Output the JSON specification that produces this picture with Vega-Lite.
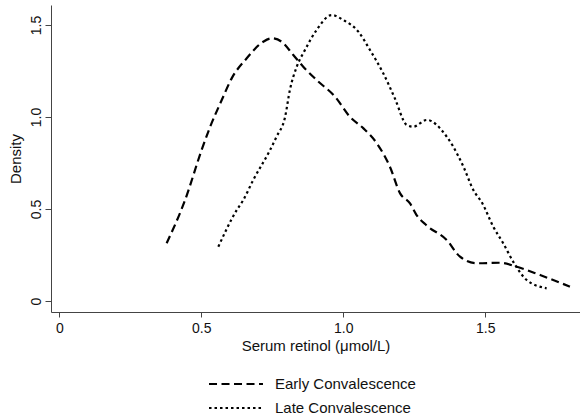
{
  "$schema": "https://vega.github.io/schema/vega-lite/v6.json",
  "width": 529,
  "height": 307,
  "autosize": {"type": "none"},
  "padding": {"left": 51, "top": 5, "right": 0, "bottom": 108},
  "background": "white",
  "config": {
    "view": {"stroke": null},
    "font": "Liberation Sans",
    "axis": {"grid": false, "domainColor": "#444", "tickColor": "#444", "labelColor": "#111", "titleColor": "#111", "labelFont": "Liberation Sans", "titleFont": "Liberation Sans", "titleFontWeight": "normal", "labelFontSize": 14, "titleFontSize": 15}
  },
  "data": {"values": [
    {"series": "Early Convalescence", "x": 0.378, "y": 0.314},
    {"series": "Early Convalescence", "x": 0.443, "y": 0.549},
    {"series": "Early Convalescence", "x": 0.501, "y": 0.82},
    {"series": "Early Convalescence", "x": 0.531, "y": 0.946},
    {"series": "Early Convalescence", "x": 0.572, "y": 1.092},
    {"series": "Early Convalescence", "x": 0.607, "y": 1.21},
    {"series": "Early Convalescence", "x": 0.66, "y": 1.319},
    {"series": "Early Convalescence", "x": 0.718, "y": 1.409},
    {"series": "Early Convalescence", "x": 0.748, "y": 1.428},
    {"series": "Early Convalescence", "x": 0.783, "y": 1.409},
    {"series": "Early Convalescence", "x": 0.824, "y": 1.337},
    {"series": "Early Convalescence", "x": 0.859, "y": 1.273},
    {"series": "Early Convalescence", "x": 0.906, "y": 1.201},
    {"series": "Early Convalescence", "x": 0.971, "y": 1.11},
    {"series": "Early Convalescence", "x": 1.024, "y": 1.0},
    {"series": "Early Convalescence", "x": 1.071, "y": 0.938},
    {"series": "Early Convalescence", "x": 1.118, "y": 0.857},
    {"series": "Early Convalescence", "x": 1.164, "y": 0.73},
    {"series": "Early Convalescence", "x": 1.2, "y": 0.585},
    {"series": "Early Convalescence", "x": 1.235, "y": 0.53},
    {"series": "Early Convalescence", "x": 1.258, "y": 0.467},
    {"series": "Early Convalescence", "x": 1.294, "y": 0.41},
    {"series": "Early Convalescence", "x": 1.364, "y": 0.332},
    {"series": "Early Convalescence", "x": 1.411, "y": 0.241},
    {"series": "Early Convalescence", "x": 1.47, "y": 0.205},
    {"series": "Early Convalescence", "x": 1.552, "y": 0.208},
    {"series": "Early Convalescence", "x": 1.611, "y": 0.186},
    {"series": "Early Convalescence", "x": 1.693, "y": 0.141},
    {"series": "Early Convalescence", "x": 1.798, "y": 0.078},
    {"series": "Late Convalescence", "x": 0.56, "y": 0.295},
    {"series": "Late Convalescence", "x": 0.625, "y": 0.495},
    {"series": "Late Convalescence", "x": 0.648, "y": 0.549},
    {"series": "Late Convalescence", "x": 0.683, "y": 0.658},
    {"series": "Late Convalescence", "x": 0.742, "y": 0.82},
    {"series": "Late Convalescence", "x": 0.765, "y": 0.893},
    {"series": "Late Convalescence", "x": 0.795, "y": 1.0},
    {"series": "Late Convalescence", "x": 0.812, "y": 1.147},
    {"series": "Late Convalescence", "x": 0.836, "y": 1.273},
    {"series": "Late Convalescence", "x": 0.865, "y": 1.364},
    {"series": "Late Convalescence", "x": 0.906, "y": 1.473},
    {"series": "Late Convalescence", "x": 0.959, "y": 1.554},
    {"series": "Late Convalescence", "x": 1.0, "y": 1.527},
    {"series": "Late Convalescence", "x": 1.053, "y": 1.464},
    {"series": "Late Convalescence", "x": 1.094, "y": 1.364},
    {"series": "Late Convalescence", "x": 1.141, "y": 1.237},
    {"series": "Late Convalescence", "x": 1.182, "y": 1.1},
    {"series": "Late Convalescence", "x": 1.223, "y": 0.957},
    {"series": "Late Convalescence", "x": 1.246, "y": 0.947},
    {"series": "Late Convalescence", "x": 1.294, "y": 0.984},
    {"series": "Late Convalescence", "x": 1.329, "y": 0.957},
    {"series": "Late Convalescence", "x": 1.346, "y": 0.929},
    {"series": "Late Convalescence", "x": 1.387, "y": 0.839},
    {"series": "Late Convalescence", "x": 1.423, "y": 0.73},
    {"series": "Late Convalescence", "x": 1.458, "y": 0.603},
    {"series": "Late Convalescence", "x": 1.49, "y": 0.53},
    {"series": "Late Convalescence", "x": 1.528, "y": 0.404},
    {"series": "Late Convalescence", "x": 1.563, "y": 0.314},
    {"series": "Late Convalescence", "x": 1.605, "y": 0.196},
    {"series": "Late Convalescence", "x": 1.646, "y": 0.114},
    {"series": "Late Convalescence", "x": 1.716, "y": 0.069}
  ]},
  "mark": {"type": "line", "color": "#000", "strokeWidth": 2.2, "interpolate": "monotone"},
  "encoding": {
    "x": {
      "field": "x", "type": "quantitative",
      "scale": {"domain": [-0.0292, 1.8335], "nice": false, "zero": false},
      "axis": {"values": [0, 0.5, 1, 1.5], "labelExpr": "datum.value == 0 ? '0' : format(datum.value, '.1f')", "title": "Serum retinol (μmol/L)", "tickSize": 5, "labelPadding": 4, "titlePadding": 3, "labelFlush": false}
    },
    "y": {
      "field": "y", "type": "quantitative",
      "scale": {"domain": [-0.0598, 1.6087], "nice": false, "zero": false},
      "axis": {"values": [0, 0.5, 1, 1.5], "labelExpr": "datum.value == 0 ? '0' : format(datum.value, '.1f')", "title": "Density", "tickSize": 6, "labelAngle": -90, "labelPadding": 2, "titlePadding": 6, "labelFlush": false}
    },
    "strokeDash": {
      "field": "series", "type": "nominal",
      "scale": {"domain": ["Early Convalescence", "Late Convalescence"], "range": [[8, 4.5], [2.5, 3]]},
      "legend": {
        "title": null, "orient": "none", "legendX": 177, "legendY": 371, "direction": "vertical",
        "symbolType": "M-4,0H4", "symbolSize": 182, "symbolStrokeWidth": 2.2, "symbolStrokeColor": "#000", "symbolFillColor": "transparent",
        "labelFontSize": 15, "labelColor": "#111", "labelFont": "Liberation Sans", "labelOffset": 31, "rowPadding": 8
      }
    }
  }
}
